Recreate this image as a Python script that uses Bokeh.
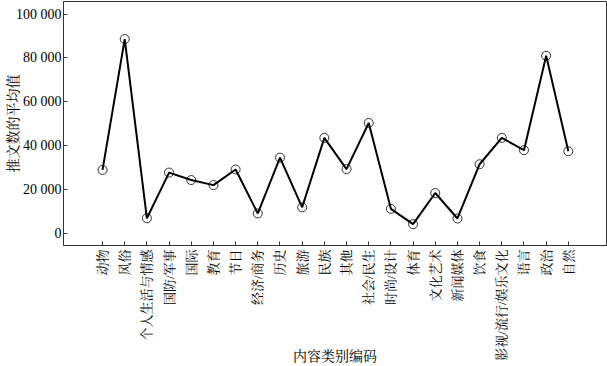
from bokeh.plotting import figure
from bokeh.models import FixedTicker, Range1d
from bokeh.embed import file_html
from bokeh.resources import INLINE
import math

categories = ["动物", "风俗", "个人生活与情感", "国防/军事", "国际", "教育", "节日",
              "经济/商务", "历史", "旅游", "民族", "其他", "社会/民生", "时尚/设计",
              "体育", "文化艺术", "新闻媒体", "饮食", "影视/流行/娱乐文化", "语言",
              "政治", "自然"]
values = [29000, 88600, 7000, 27800, 24400, 22100, 29200, 9200, 34600, 12000,
          43600, 29400, 50400, 11300, 4300, 18500, 6900, 31600, 43600, 38000,
          81000, 37500]
y_ticks = [0, 20000, 40000, 60000, 80000, 100000]
y_tick_labels = ["0", "20 000", "40 000", "60 000", "80 000", "100 000"]

FONT = "Liberation Serif, Noto Serif CJK SC, Noto Sans CJK SC"
xs = list(range(len(categories)))

p = figure(width=607, height=366, output_backend="svg", toolbar_location=None,
           x_range=Range1d(-1.76, len(categories) - 1 + 1.72),
           y_range=Range1d(-5400, 105700),
           min_border_left=63, min_border_right=1, min_border_top=1,
           min_border_bottom=119)

p.line(xs, values, line_color="black", line_width=2)
p.scatter(xs, values, marker="circle", size=9, fill_alpha=0,
          line_color="black", line_width=0.8)

p.grid.visible = False
p.outline_line_color = "#333333"
p.outline_line_width = 1
p.background_fill_color = "white"
p.border_fill_color = "white"

xa = p.xaxis[0]
xa.ticker = FixedTicker(ticks=xs)
xa.major_label_overrides = {i: c for i, c in enumerate(categories)}
xa.major_label_orientation = math.pi / 2
xa.major_label_text_font = FONT
xa.major_label_text_font_size = "13px"
xa.major_label_text_color = "black"
xa.major_label_standoff = 4
xa.major_tick_in = 4
xa.major_tick_out = 0
xa.minor_tick_line_color = None
xa.axis_line_color = "#333333"
xa.major_tick_line_color = "#333333"
xa.axis_label = "内容类别编码"
xa.axis_label_text_font = FONT
xa.axis_label_text_font_size = "14px"
xa.axis_label_text_font_style = "normal"
xa.axis_label_text_color = "black"
xa.axis_label_standoff = -15

ya = p.yaxis[0]
ya.ticker = FixedTicker(ticks=y_ticks)
ya.major_label_overrides = {t: l for t, l in zip(y_ticks, y_tick_labels)}
ya.major_label_text_font = FONT
ya.major_label_text_font_size = "14px"
ya.major_label_text_color = "black"
ya.major_label_standoff = 2
ya.major_tick_in = 4
ya.major_tick_out = 0
ya.minor_tick_line_color = None
ya.axis_line_color = "#333333"
ya.major_tick_line_color = "#333333"
ya.axis_label = "推文数的平均值"
ya.axis_label_text_font = FONT
ya.axis_label_text_font_size = "14px"
ya.axis_label_text_font_style = "normal"
ya.axis_label_text_color = "black"
ya.axis_label_standoff = -8

open("out.html", "w").write(file_html(p, INLINE))
